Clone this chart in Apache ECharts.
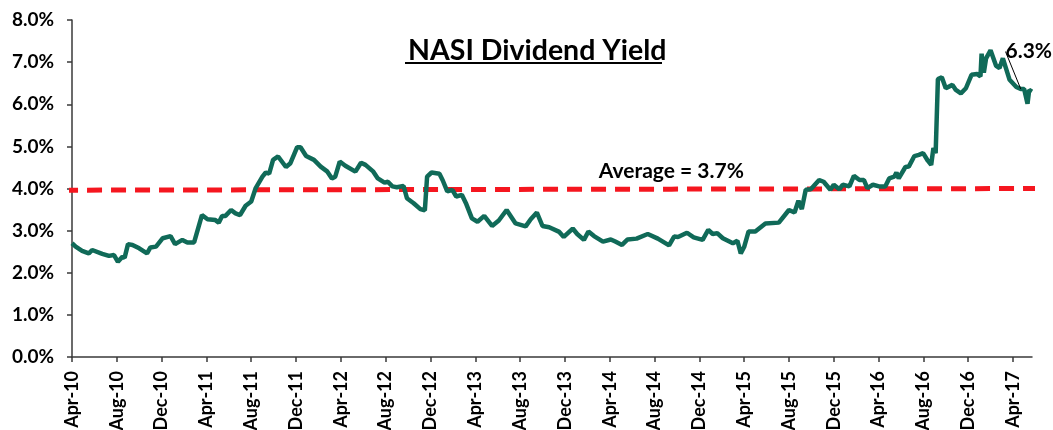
<!DOCTYPE html>
<html>
<head>
  <meta charset="utf-8">
  <title>NASI Dividend Yield</title>
  <script src="https://cdn.jsdelivr.net/npm/echarts/dist/echarts.min.js"></script>
  <style>
    html, body { margin: 0; padding: 0; background: #fff; }
    #chart { width: 1053px; height: 430px; }
  </style>
</head>
<body>
  <div id="chart"></div>
  <script>
    // months counted from Apr-10 (0 = Apr-10, 4 = Aug-10 ...)
    var xMonths = [
      0, 0.33, 0.9, 1.5, 1.8, 2.7, 3.3, 3.75, 4.1, 4.5, 4.7, 5.0, 5.4, 6.0, 6.7, 7.0, 7.5, 8.1, 8.8, 9.2,
      9.85, 10.3, 10.9, 11.6, 12.1, 12.8, 13.1, 13.4, 13.7, 14.2, 14.6, 15.0, 15.5, 16.0, 16.4, 17.0, 17.3, 17.6, 17.95, 18.4,
      19.1, 19.5, 20.1, 20.4, 20.9, 21.6, 22.2, 22.8, 23.2, 23.5, 23.9, 24.4, 25.3, 25.8, 26.2, 26.9, 27.3, 27.9, 28.2, 28.6,
      29.0, 29.6, 29.9, 30.5, 31.1, 31.5, 31.7, 32.1, 32.8, 33.1, 33.5, 33.95, 34.3, 34.8, 35.2, 35.7, 36.2, 36.8, 37.5, 38.1,
      38.8, 39.6, 40.5, 40.95, 41.5, 42.0, 42.6, 43.5, 43.9, 44.7, 45.1, 45.7, 46.1, 46.6, 47.4, 48.1, 48.5, 49.1, 49.6, 50.4,
      51.4, 52.3, 53.3, 53.75, 54.1, 54.9, 55.5, 56.3, 56.8, 57.2, 57.6, 58.1, 59.0, 59.4, 59.7, 60.0, 60.4, 61.0, 61.9, 63.1,
      64.0, 64.5, 64.85, 65.15, 65.5, 65.95, 66.7, 67.1, 67.7, 68.0, 68.5, 68.8, 69.4, 69.8, 70.3, 70.7, 71.0, 71.5, 72.05, 72.6,
      72.95, 73.4, 73.6, 73.8, 74.4, 74.7, 75.2, 75.6, 75.98, 76.4, 76.7, 76.9, 77.1, 77.3, 77.65, 78.0, 78.6, 78.9, 79.35, 79.8,
      80.3, 80.8, 81.1, 81.2, 81.4, 81.6, 82.0, 82.5, 82.8, 83.1, 83.7, 84.3, 84.7, 85.0, 85.3, 85.45, 85.7
    ];
    var yieldValues = [
      2.70, 2.62, 2.52, 2.46, 2.54, 2.45, 2.40, 2.42, 2.26, 2.38, 2.36, 2.68, 2.66, 2.58, 2.46, 2.60, 2.62, 2.82, 2.87, 2.68,
      2.78, 2.72, 2.72, 3.37, 3.27, 3.25, 3.19, 3.35, 3.35, 3.49, 3.41, 3.37, 3.59, 3.69, 4.01, 4.28, 4.38, 4.35, 4.68, 4.76,
      4.51, 4.60, 4.98, 4.98, 4.77, 4.68, 4.52, 4.40, 4.24, 4.28, 4.64, 4.54, 4.40, 4.61, 4.56, 4.40, 4.24, 4.14, 4.16, 4.05,
      4.03, 4.06, 3.77, 3.65, 3.51, 3.48, 4.28, 4.38, 4.35, 4.19, 3.93, 3.97, 3.81, 3.85, 3.63, 3.29, 3.21, 3.35, 3.11, 3.24,
      3.49, 3.17, 3.10, 3.27, 3.43, 3.11, 3.08, 2.97, 2.85, 3.05, 2.92, 2.78, 2.98, 2.87, 2.74, 2.79, 2.74, 2.66, 2.79, 2.81,
      2.92, 2.81, 2.65, 2.86, 2.85, 2.95, 2.84, 2.78, 3.02, 2.92, 2.94, 2.82, 2.70, 2.76, 2.46, 2.61, 2.98, 2.98, 3.17, 3.19,
      3.49, 3.43, 3.71, 3.51, 3.97, 3.98, 4.20, 4.16, 3.97, 4.09, 3.98, 4.09, 4.05, 4.30, 4.20, 4.20, 4.01, 4.09, 4.05, 4.05,
      4.24, 4.28, 4.38, 4.24, 4.51, 4.52, 4.77, 4.80, 4.84, 4.66, 4.56, 4.96, 4.84, 6.60, 6.64, 6.38, 6.46, 6.34, 6.26, 6.38,
      6.70, 6.72, 6.66, 7.20, 6.75, 7.09, 7.28, 6.91, 6.86, 7.09, 6.58, 6.41, 6.36, 6.36, 6.01, 6.34, 6.30
    ];
    var xTickLabels = ['Apr-10', 'Aug-10', 'Dec-10', 'Apr-11', 'Aug-11', 'Dec-11', 'Apr-12', 'Aug-12',
      'Dec-12', 'Apr-13', 'Aug-13', 'Dec-13', 'Apr-14', 'Aug-14', 'Dec-14', 'Apr-15', 'Aug-15',
      'Dec-15', 'Apr-16', 'Aug-16', 'Dec-16', 'Apr-17'];
    // average line (drawn a bit past both ends of the axis)
    var avgMonths = [-0.8, 53.5, 87.5];
    var avgValues = [3.96, 3.985, 4.0];
    var avgText = 'Average = 3.7%';
    var lastText = '6.3%';
    var lastLabelMonth = 84.7;

    var font = 'Lato';
    var tickValues = xTickLabels.map(function (l, i) { return i * 4; });
    var labelIdx = xMonths.indexOf(lastLabelMonth);

    var lineData = xMonths.map(function (m, i) {
      if (i === labelIdx) {
        return {
          value: [m, yieldValues[i]],
          label: { show: true, position: 'top', distance: 5, formatter: lastText,
            color: '#000', fontFamily: font, fontWeight: 'bold', fontSize: 21 },
          labelLine: { show: true, lineStyle: { color: '#000', width: 1 } }
        };
      }
      return [m, yieldValues[i]];
    });

    var avgData = avgMonths.map(function (m, i) {
      if (i === 1) {
        return {
          value: [m, avgValues[i]],
          label: { show: true, position: 'top', distance: 7, formatter: avgText,
            color: '#000', fontFamily: font, fontWeight: 'bold', fontSize: 21 }
        };
      }
      return [m, avgValues[i]];
    });

    var myChart = echarts.init(document.getElementById('chart'));

    var option = {
      animation: false,
      title: {
        text: 'NASI Dividend Yield',
        left: 403,
        top: 31,
        textStyle: { fontFamily: font, fontWeight: 'bold', fontSize: 28.5, color: '#000' }
      },
      graphic: [{
        // underline of the title
        type: 'rect',
        left: 405, top: 62,
        shape: { width: 257, height: 2 },
        style: { fill: '#000' }
      }],
      grid: { left: 72, right: 21, top: 20, bottom: 73, outerBoundsMode: 'none', containLabel: false },
      xAxis: {
        type: 'value',
        min: 0,
        max: 85.7,
        splitLine: { show: false },
        axisLine: { lineStyle: { color: '#3a3a3a', width: 1.5 } },
        axisTick: { customValues: tickValues, length: 5, lineStyle: { color: '#3a3a3a', width: 1.5 } },
        axisLabel: {
          customValues: tickValues,
          rotate: 90,
          margin: 14,
          color: '#000',
          fontFamily: font,
          fontWeight: 'bold',
          fontSize: 18,
          formatter: function (v) { return xTickLabels[Math.round(v / 4)]; }
        }
      },
      yAxis: {
        type: 'value',
        min: 0,
        max: 8,
        interval: 1,
        splitLine: { show: false },
        axisLine: { show: true, lineStyle: { color: '#3a3a3a', width: 1.5 } },
        axisTick: { show: true, length: 5, lineStyle: { color: '#3a3a3a', width: 1.5 } },
        axisLabel: {
          margin: 18,
          color: '#000',
          fontFamily: font,
          fontWeight: 'bold',
          fontSize: 19,
          formatter: function (v) { return v.toFixed(1) + '%'; }
        }
      },
      series: [
        {
          name: 'Average',
          type: 'line',
          data: avgData,
          clip: false,
          symbol: 'circle',
          symbolSize: 0,
          showAllSymbol: true,
          silent: true,
          lineStyle: { color: '#f5161f', width: 5, type: [15, 9] },
          z: 3
        },
        {
          name: 'NASI Dividend Yield',
          type: 'line',
          data: lineData,
          symbol: 'circle',
          symbolSize: 0,
          showAllSymbol: true,
          lineStyle: { color: '#106a58', width: 4.5 },
          labelLayout: function (p) {
            if (p.dataIndex === labelIdx) return { dx: 8, dy: -22 };
          },
          z: 4
        }
      ]
    };

    myChart.setOption(option);
  </script>
</body>
</html>
